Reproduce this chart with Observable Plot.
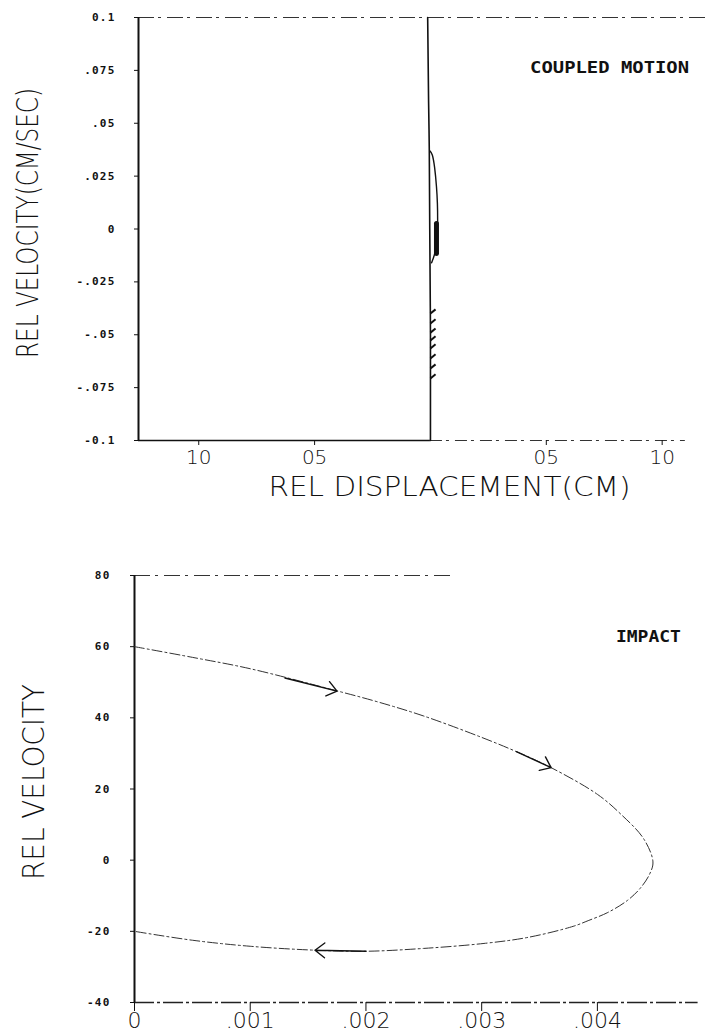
<!DOCTYPE html>
<html><head><meta charset="utf-8">
<script src="https://cdn.jsdelivr.net/npm/d3@7"></script>
<script src="https://cdn.jsdelivr.net/npm/@observablehq/plot@0.6"></script>
<style>
body{margin:0;background:#fff;}
#wrap{width:708px;}
#wrap svg{display:block;background:#fff;}
#wrap g[aria-label="y-axis tick label"] text{letter-spacing:1.2px;}
</style></head><body><div id="wrap"></div>
<script>
// ---------- TOP PANEL : COUPLED MOTION ----------
const topXDomain = [-1.26, 1.2];
const topYDomain = [-0.1, 0.1];
const topYTicks = [0.1, 0.075, 0.05, 0.025, 0, -0.025, -0.05, -0.075, -0.1];
const topYLabels = ["0.1", ".075", ".05", ".025", "0", "-.025", "-.05", "-.075", "-0.1"];
const topXTicks = [-1.0, -0.5, 0.5, 1.0];
const topXLabels = ["10", "05", "05", "10"];
const topAxisRightEnd = 1.1;
// main trajectory (nearly vertical line at zero displacement)
const mainX = [-0.012, -0.008, -0.005, -0.003, 0, 0];
const mainY = [0.1, 0.06, 0.037, 0, -0.05, -0.1];
// small excursion loop
const loopX = [-0.003, 0.008, 0.018, 0.026, 0.03, 0.031, 0.029, 0.02, 0.005];
const loopY = [0.037, 0.035, 0.029, 0.02, 0.012, 0.004, -0.004, -0.011, -0.016];
// dense oscillation blob
const blobX = [0.026, 0.026];
const blobY = [0.0026, -0.0116];
// hatch marks along the line
const hatchY = [-0.040, -0.0447, -0.049, -0.0527, -0.0565, -0.0612, -0.066, -0.0707];
const hatchDX = 0.022, hatchDY = 0.002;
const topNote = {x: 0.43, y: 0.0759, text: "COUPLED MOTION"};
const topYTitle = "REL VELOCITY(CM/SEC)";
const topXTitle = "REL DISPLACEMENT(CM)";

// ---------- BOTTOM PANEL : IMPACT ----------
const botXDomain = [0, 0.00496];
const botYDomain = [-40, 80];
const botYTicks = [80, 60, 40, 20, 0, -20, -40];
const botYLabels = ["80", "60", "40", "20", "0", "-20", "-40"];
const botXTicks = [0, 0.001, 0.002, 0.003, 0.004];
const botXLabels = ["0", ".001", ".002", ".003", ".004"];
const botTopBorderEnd = 0.00277;
const botAxisRightEnd = 0.00487;
const impactX = [0, 0.0005, 0.001, 0.0017, 0.0021, 0.0025, 0.003, 0.0033, 0.0036, 0.004, 0.0042, 0.0044, 0.00448, 0.00445, 0.00437, 0.00426, 0.00409, 0.00392, 0.00379, 0.0034, 0.00302, 0.0025, 0.002, 0.00156, 0.001, 0.0005, 0];
const impactY = [60, 57, 53.8, 48, 44.5, 40.5, 34.5, 30.5, 26, 18.5, 13, 6, -0.5, -4, -7.9, -11.3, -14.7, -17, -18.6, -21.7, -23.4, -24.8, -25.6, -25.3, -24.2, -22.5, -20];
// arrowheads along the path: from (x1,y1) to tip (x2,y2)
const arrowX1 = [0.0013, 0.0033, 0.0020];
const arrowY1 = [51.2, 30.5, -25.6];
const arrowX2 = [0.00175, 0.0036, 0.00156];
const arrowY2 = [47.5, 26, -25.3];
const botNote = {x: 0.00416, y: 62.6, text: "IMPACT"};
const botYTitle = "REL VELOCITY";

const monoFont = "DejaVu Sans Mono";
const thinFont = "DejaVu Sans";
const ink = "#111";

// ---------- build top ----------
const mainLine = mainX.map((x, i) => ({x, y: mainY[i]}));
const loopLine = loopX.map((x, i) => ({x, y: loopY[i]}));
const blob = blobX.map((x, i) => ({x, y: blobY[i]}));
const hatch = hatchY.map(y => ({x1: 0, y1: y, x2: hatchDX, y2: y + hatchDY}));

const topChart = Plot.plot({
  width: 708, height: 520,
  marginLeft: 138, marginRight: 0, marginTop: 17, marginBottom: 80,
  x: {domain: topXDomain},
  y: {domain: topYDomain},
  style: {background: "#fff", color: ink},
  marks: [
    Plot.ruleY([topYDomain[1]], {x1: topXDomain[0], x2: topXDomain[1], stroke: "#333", strokeWidth: 1.2, strokeDasharray: "16,4,3,6"}),
    Plot.ruleY([topYDomain[0]], {x1: topXDomain[0], x2: 0, stroke: ink, strokeWidth: 1.6}),
    Plot.ruleY([topYDomain[0]], {x1: 0, x2: topAxisRightEnd, stroke: "#333", strokeWidth: 1.2, strokeDasharray: "12,4,3,6"}),
    Plot.ruleX([topXDomain[0]], {y1: topYDomain[0], y2: topYDomain[1], stroke: ink, strokeWidth: 2}),
    Plot.axisY({ticks: topYTicks, tickFormat: d => topYLabels[topYTicks.indexOf(d)], tickSize: 4, tickPadding: 19, fontFamily: monoFont, fontWeight: "bold", fontSize: 11, label: null}),
    Plot.axisX({ticks: topXTicks, tickFormat: d => topXLabels[topXTicks.indexOf(d)], tickSize: 5, tickPadding: 4, fontFamily: thinFont, fontWeight: 200, fontSize: 20, label: null}),
    Plot.line(mainLine, {x: "x", y: "y", stroke: ink, strokeWidth: 1.6, curve: "natural"}),
    Plot.line(loopLine, {x: "x", y: "y", stroke: ink, strokeWidth: 1.4, curve: "natural"}),
    Plot.line(blob, {x: "x", y: "y", stroke: ink, strokeWidth: 5, strokeLinecap: "round"}),
    Plot.link(hatch, {x1: "x1", y1: "y1", x2: "x2", y2: "y2", stroke: ink, strokeWidth: 2}),
    Plot.text([topNote], {x: "x", y: "y", text: "text", textAnchor: "start", fontFamily: monoFont, fontWeight: "bold", fontSize: 15}),
    Plot.text([topYTitle], {frameAnchor: "left", textAnchor: "middle", dx: -110, dy: -6, rotate: -90, fontFamily: thinFont, fontWeight: 200, fontSize: 30}),
    Plot.text([topXTitle], {frameAnchor: "bottom", textAnchor: "middle", dx: 26, dy: 55, fontFamily: thinFont, fontWeight: 200, fontSize: 27})
  ]
});

// ---------- build bottom ----------
const impact = impactX.map((x, i) => ({x, y: impactY[i]}));
const arrows = arrowX1.map((x1, i) => ({x1, y1: arrowY1[i], x2: arrowX2[i], y2: arrowY2[i]}));

const botChart = Plot.plot({
  width: 708, height: 516,
  marginLeft: 134, marginRight: 0, marginTop: 55, marginBottom: 34,
  x: {domain: botXDomain},
  y: {domain: botYDomain},
  style: {background: "#fff", color: ink},
  marks: [
    Plot.ruleY([botYDomain[1]], {x1: botXDomain[0], x2: botTopBorderEnd, stroke: "#333", strokeWidth: 1.2, strokeDasharray: "16,5,3,6"}),
    Plot.ruleY([botYDomain[0]], {x1: botXDomain[0], x2: botAxisRightEnd, stroke: "#222", strokeWidth: 1.3, strokeDasharray: "20,3,3,3"}),
    Plot.ruleX([botXDomain[0]], {y1: botYDomain[0], y2: botYDomain[1], stroke: ink, strokeWidth: 2}),
    Plot.axisY({ticks: botYTicks, tickFormat: d => botYLabels[botYTicks.indexOf(d)], tickSize: 4, tickPadding: 20, fontFamily: monoFont, fontWeight: "bold", fontSize: 11, label: null}),
    Plot.axisX({ticks: botXTicks, tickFormat: d => botXLabels[botXTicks.indexOf(d)], tickSize: 9, tickPadding: 1, fontFamily: thinFont, fontWeight: 200, fontSize: 22, label: null}),
    Plot.line(impact, {x: "x", y: "y", stroke: "#333", strokeWidth: 1, curve: "catmull-rom", strokeDasharray: "10,3,2,3"}),
    Plot.arrow(arrows, {x1: "x1", y1: "y1", x2: "x2", y2: "y2", stroke: ink, strokeWidth: 1.4, headLength: 13, headAngle: 75}),
    Plot.text([botNote], {x: "x", y: "y", text: "text", textAnchor: "start", fontFamily: monoFont, fontWeight: "bold", fontSize: 15}),
    Plot.text([botYTitle], {frameAnchor: "left", textAnchor: "middle", dx: -100, dy: -7, rotate: -90, fontFamily: thinFont, fontWeight: 200, fontSize: 30})
  ]
});

const wrap = document.getElementById("wrap");
wrap.appendChild(topChart);
wrap.appendChild(botChart);

// stretch texts to the widths seen in the original
const fit = (svg, str, len) => d3.select(svg).selectAll("text")
  .filter(function () { return this.textContent === str; })
  .attr("textLength", len).attr("lengthAdjust", "spacingAndGlyphs");
fit(topChart, topYTitle, 270);
fit(topChart, topXTitle, 362);
fit(topChart, topNote.text, 159);
fit(botChart, botYTitle, 196);
fit(botChart, botNote.text, 65);
</script>
</body></html>
